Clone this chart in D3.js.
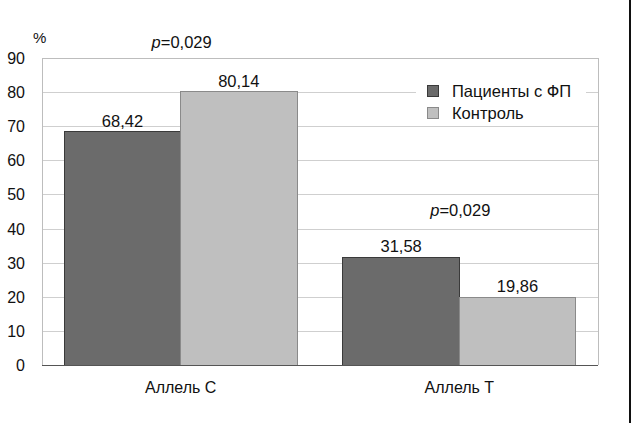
<!DOCTYPE html>
<html>
<head>
<meta charset="utf-8">
<script src="https://cdn.jsdelivr.net/npm/d3@7"></script>
<style>
  html, body { margin: 0; padding: 0; background: #fff; }
  svg { display: block; }
  text { font-family: "Liberation Sans", Arial, Helvetica, sans-serif; fill: #111; }
</style>
</head>
<body>
<script>
// Allele frequencies (%) in patients with AF vs. control group
const categories = ["Аллель С", "Аллель Т"];
const seriesNames = ["Пациенты с ФП", "Контроль"];
const patients = [68.42, 31.58];
const control = [80.14, 19.86];
const valueLabels = [["68,42", "80,14"], ["31,58", "19,86"]];
const pLabels = ["0,029", "0,029"];
const yTicks = [0, 10, 20, 30, 40, 50, 60, 70, 80, 90];

const W = 631, H = 423;
const plot = { left: 42, right: 598, top: 58, bottom: 365 };
const colors = ["#6b6b6b", "#bfbfbf"];
const strokes = ["#3a3a3a", "#8a8a8a"];
const pOffsets = [44, 41];

const svg = d3.select("body").append("svg").attr("width", W).attr("height", H);

const x0 = d3.scaleBand().domain(categories).range([plot.left, plot.right])
  .paddingInner(0.165).paddingOuter(0.08);
const x1 = d3.scaleBand().domain(seriesNames).range([0, x0.bandwidth()]).padding(0);
const y = d3.scaleLinear().domain([0, 90]).range([plot.bottom, plot.top]);

// Gridlines
const yAxis = d3.axisLeft(y).tickValues(yTicks).tickSize(-(plot.right - plot.left)).tickFormat("");
const gGrid = svg.append("g").attr("transform", `translate(${plot.left},0)`).call(yAxis);
gGrid.select(".domain").remove();
gGrid.selectAll(".tick line").attr("stroke", "#cfcfcf").attr("stroke-width", 1)
  .attr("shape-rendering", "crispEdges");

// Frame: left, top, right
svg.append("path")
  .attr("d", `M${plot.left},${plot.bottom}V${plot.top}H${plot.right}V${plot.bottom}`)
  .attr("fill", "none").attr("stroke", "#bdbdbd").attr("stroke-width", 1)
  .attr("shape-rendering", "crispEdges");

// Tick labels
svg.append("g").selectAll("text").data(yTicks).join("text")
  .attr("x", 25).attr("y", d => y(d) + 6)
  .attr("text-anchor", "end").attr("font-size", 16).text(d => d);

svg.append("text").attr("x", 33).attr("y", 43).attr("font-size", 15).text("%");

// Bars
const rows = categories.map((c, i) => ({ cat: c, i, vals: [patients[i], control[i]] }));
const groups = svg.append("g").selectAll("g").data(rows).join("g")
  .attr("transform", d => `translate(${x0(d.cat)},0)`);

groups.selectAll("rect").data(d => d.vals.map((v, k) => ({ v, k }))).join("rect")
  .attr("x", d => x1(seriesNames[d.k]))
  .attr("y", d => y(d.v))
  .attr("width", x1.bandwidth())
  .attr("height", d => y(0) - y(d.v))
  .attr("fill", d => colors[d.k])
  .attr("stroke", d => strokes[d.k]).attr("stroke-width", 1)
  .attr("shape-rendering", "crispEdges");

groups.selectAll("text.val").data(d => d.vals.map((v, k) => ({ v, k, lab: valueLabels[d.i][k] }))).join("text")
  .attr("class", "val")
  .attr("x", d => x1(seriesNames[d.k]) + x1.bandwidth() / 2)
  .attr("y", d => y(d.v) - 5)
  .attr("text-anchor", "middle").attr("font-size", 16.5).text(d => d.lab);

// p-value annotations above each group
groups.append("text")
  .attr("x", x0.bandwidth() / 2 + 1)
  .attr("y", d => y(Math.max(...d.vals)) - pOffsets[d.i])
  .attr("text-anchor", "middle").attr("font-size", 16.5)
  .each(function(d) {
    const t = d3.select(this);
    t.append("tspan").attr("font-style", "italic").text("p");
    t.append("tspan").text("=" + pLabels[d.i]);
  });

// X axis baseline
svg.append("line")
  .attr("x1", plot.left).attr("x2", plot.right).attr("y1", plot.bottom).attr("y2", plot.bottom)
  .attr("stroke", "#555").attr("stroke-width", 1).attr("shape-rendering", "crispEdges");

// Category labels
svg.append("g").selectAll("text").data(categories).join("text")
  .attr("x", d => x0(d) + x0.bandwidth() / 2)
  .attr("y", 393)
  .attr("text-anchor", "middle").attr("font-size", 16).text(d => d);

// Legend
const lg = svg.append("g");
lg.append("rect").attr("x", 416).attr("y", 78).attr("width", 170).attr("height", 46).attr("fill", "#fff");
seriesNames.forEach((s, k) => {
  const yy = 85 + k * 22;
  lg.append("rect").attr("x", 427.5).attr("y", yy + 0.5).attr("width", 11).attr("height", 11)
    .attr("fill", colors[k]).attr("stroke", strokes[k]).attr("stroke-width", 1);
  lg.append("text").attr("x", 452).attr("y", yy + 11.5).attr("font-size", 16.5).text(s);
});

// Right edge rule
svg.append("rect").attr("x", 629).attr("y", 0).attr("width", 2).attr("height", H).attr("fill", "#111");
</script>
</body>
</html>
